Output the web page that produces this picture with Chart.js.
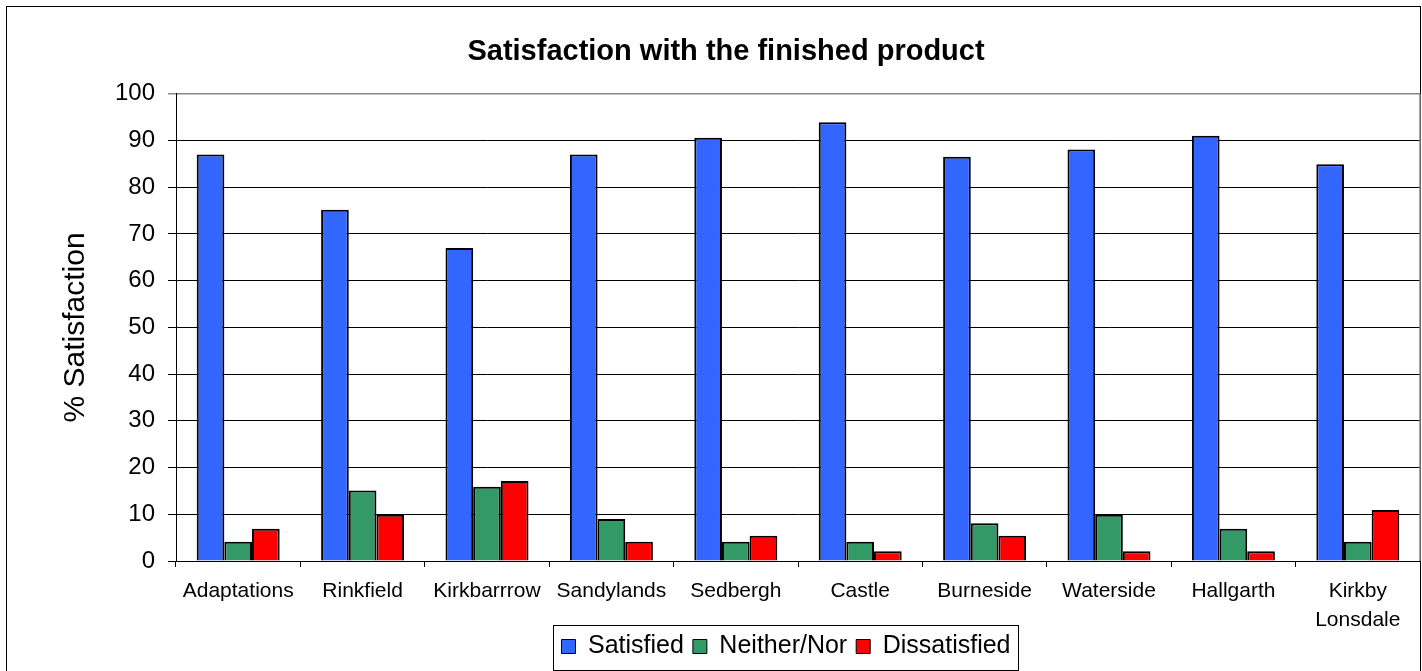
<!DOCTYPE html>
<html>
<head>
<meta charset="utf-8">
<title>Satisfaction with the finished product</title>
<script src="https://cdn.jsdelivr.net/npm/chart.js@4"></script>
<style>
  html, body { margin: 0; padding: 0; background: #fff; }
  #wrap { width: 1422px; height: 671px; position: relative; }
</style>
</head>
<body>
<div id="wrap"><canvas id="grafico" width="1422" height="671"></canvas></div>
<script>
const categorias = ["Adaptations", "Rinkfield", "Kirkbarrrow", "Sandylands", "Sedbergh", "Castle", "Burneside", "Waterside", "Hallgarth", ["Kirkby", "Lonsdale"]];
const satisfeitos = [87, 75.2, 67, 87, 90.6, 93.9, 86.5, 88.1, 91, 84.9];
const nemNem = [4.1, 15.1, 15.9, 9, 4.1, 4.1, 8.1, 9.9, 6.9, 4.1];
const insatisfeitos = [6.9, 9.9, 17.1, 4.1, 5.4, 2.1, 5.4, 2.1, 2.1, 10.9];

const FONTE = "'Liberation Sans', Arial, sans-serif";

// moldura externa, borda da legenda e deslocamentos de titulo/legenda
const pluginMoldura = {
  id: "moldura",
  afterLayout(chart) {
    const leg = chart.legend;
    const dx = 786 - (leg.left + leg.right) / 2;
    leg.left += dx;
    leg.right += dx;
    const tit = chart.titleBlock;
    const dt = 726 - (tit.left + tit.right) / 2;
    tit.left += dt;
    tit.right += dt;
    // deixa a segunda linha de "Kirkby Lonsdale" aparecer inteira
    chart.scales.x.bottom += 14;
  },
  afterDraw(chart) {
    const ctx = chart.ctx;
    const area = chart.chartArea;
    ctx.save();
    ctx.strokeStyle = "#000";
    ctx.lineWidth = 1;
    ctx.strokeRect(6.5, 6.5, 1414, 700);

    ctx.strokeStyle = "#888";
    ctx.lineWidth = 1.5;
    ctx.beginPath();
    ctx.moveTo(area.right, area.top);
    ctx.lineTo(area.right, area.bottom);
    ctx.stroke();

    const caixas = chart.legend.legendHitBoxes;
    if (caixas && caixas.length) {
      const esq = caixas[0].left - 8;
      const ult = caixas[caixas.length - 1];
      const dir = ult.left + ult.width + 8;
      const topo = caixas[0].top - 9;
      ctx.strokeStyle = "#000";
      ctx.lineWidth = 1;
      ctx.strokeRect(Math.round(esq) + 0.5, Math.round(topo) + 0.5, Math.round(dir - esq), 45);
    }
    ctx.restore();
  }
};

function conjunto(rotulo, dados, cor) {
  return {
    label: rotulo,
    data: dados,
    backgroundColor: cor,
    borderColor: "#000",
    borderWidth: 2,
    borderSkipped: "bottom",
    categoryPercentage: 0.667,
    barPercentage: 1
  };
}

new Chart(document.getElementById("grafico"), {
  type: "bar",
  data: {
    labels: categorias,
    datasets: [
      conjunto("Satisfied", satisfeitos, "#3366FF"),
      conjunto("Neither/Nor", nemNem, "#339966"),
      conjunto("Dissatisfied", insatisfeitos, "#FF0000")
    ]
  },
  options: {
    responsive: false,
    animation: false,
    layout: { padding: { left: 6, right: 2, top: 6, bottom: 2 } },
    plugins: {
      title: {
        display: true,
        text: "Satisfaction with the finished product",
        color: "#000",
        font: { family: FONTE, size: 29, weight: "bold" },
        padding: { top: 29, bottom: 24 }
      },
      legend: {
        position: "bottom",
        labels: {
          color: "#000",
          font: { family: FONTE, size: 25 },
          boxWidth: 14,
          boxHeight: 14,
          padding: 9,
          generateLabels(chart) {
            return chart.data.datasets.map((ds, i) => ({
              text: ds.label,
              fillStyle: ds.backgroundColor,
              strokeStyle: "#000",
              lineWidth: 1,
              datasetIndex: i
            }));
          }
        }
      },
      tooltip: { enabled: false }
    },
    scales: {
      x: {
        grid: {
          drawOnChartArea: false,
          offset: true,
          tickLength: 6,
          color: "#000"
        },
        border: { color: "#000", width: 1 },
        ticks: {
          color: "#000",
          font: { family: FONTE, size: 21, lineHeight: 1.38 },
          padding: 10,
          maxRotation: 0,
          autoSkip: false
        },
        afterFit(escala) { escala.height = 64; }
      },
      y: {
        min: 0,
        max: 100,
        grid: {
          color: ctx => (ctx.tick && ctx.tick.value === 100 ? "#888" : "#000"),
          lineWidth: ctx => (ctx.tick && ctx.tick.value === 100 ? 1.5 : 1),
          tickLength: 8
        },
        border: { color: "#000", width: 1 },
        ticks: {
          stepSize: 10,
          color: "#000",
          font: { family: FONTE, size: 24 },
          padding: 13
        },
        title: {
          display: true,
          text: "% Satisfaction",
          color: "#000",
          font: { family: FONTE, size: 30 },
          padding: { top: 52, bottom: 0 }
        },
        afterFit(escala) { escala.width = 170; }
      }
    }
  },
  plugins: [pluginMoldura]
});
</script>
</body>
</html>
